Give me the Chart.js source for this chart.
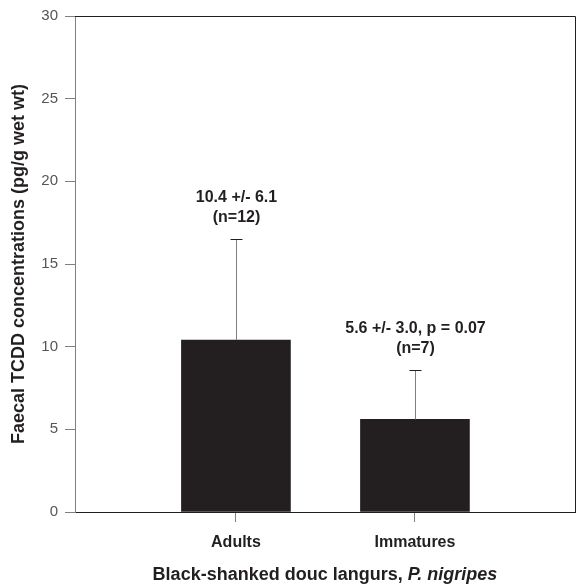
<!DOCTYPE html>
<html>
<head>
<meta charset="utf-8">
<script src="https://cdn.jsdelivr.net/npm/chart.js@4/dist/chart.umd.min.js"></script>
<style>
  html, body { margin: 0; padding: 0; background: #fff; }
  #wrap { width: 577px; height: 585px; }
</style>
</head>
<body>
<div id="wrap"><canvas id="tcddChart" width="577" height="585"></canvas></div>
<script>
// data
const categories = ["Adults", "Immatures"];
const means = [10.4, 5.6];
const sds = [6.1, 3.0];
const labelLines = [["10.4 +/- 6.1", "(n=12)"], ["5.6 +/- 3.0, p = 0.07", "(n=7)"]];
const yTicks = [0, 5, 10, 15, 20, 25, 30];

const FONT = "'Liberation Sans', Arial, Helvetica, sans-serif";
const DARK = "#231f20";
const GREY = "#808080";

// error bars (upward only), labels above them, box lines and axis titles
const extras = {
  id: "extras",
  afterDatasetsDraw(chart) {
    const ctx = chart.ctx;
    const xs = chart.scales.x, ys = chart.scales.y;
    const a = chart.chartArea;
    ctx.save();
    // top + right frame
    ctx.strokeStyle = DARK;
    ctx.lineWidth = 1;
    ctx.beginPath();
    ctx.moveTo(a.left, a.top + 0.5);
    ctx.lineTo(a.right + 0.5, a.top + 0.5);
    ctx.lineTo(a.right + 0.5, a.bottom);
    ctx.stroke();

    means.forEach((m, i) => {
      const x = Math.round(xs.getPixelForValue(i + 1)) + 0.5;
      const yBar = ys.getPixelForValue(m);
      const yTop = Math.round(ys.getPixelForValue(m + sds[i])) + 0.5;
      ctx.strokeStyle = GREY;
      ctx.beginPath();
      ctx.moveTo(x, yBar);
      ctx.lineTo(x, yTop);
      ctx.stroke();
      ctx.strokeStyle = DARK;
      ctx.beginPath();
      ctx.moveTo(x - 6, yTop);
      ctx.lineTo(x + 6, yTop);
      ctx.stroke();

      ctx.fillStyle = DARK;
      ctx.font = "bold 16px " + FONT;
      ctx.textAlign = "center";
      ctx.textBaseline = "middle";
      ctx.fillText(labelLines[i][0], x, yTop - 42);
      ctx.fillText(labelLines[i][1], x, yTop - 22);
    });

    // y title
    ctx.fillStyle = DARK;
    ctx.font = "bold 18px " + FONT;
    ctx.textAlign = "center";
    ctx.textBaseline = "middle";
    ctx.save();
    ctx.translate(19, (a.top + a.bottom) / 2);
    ctx.rotate(-Math.PI / 2);
    ctx.fillText("Faecal TCDD concentrations (pg/g wet wt)", 0, 0);
    ctx.restore();

    // x title with italic species name
    const p1 = "Black-shanked douc langurs, ";
    const p2 = "P. nigripes";
    ctx.font = "bold 18px " + FONT;
    const w1 = ctx.measureText(p1).width;
    ctx.font = "italic bold 18px " + FONT;
    const w2 = ctx.measureText(p2).width;
    const cx = (a.left + a.right) / 2;
    const sx = cx - (w1 + w2) / 2;
    const ty = 575;
    ctx.textAlign = "left";
    ctx.font = "bold 18px " + FONT;
    ctx.fillText(p1, sx, ty);
    ctx.font = "italic bold 18px " + FONT;
    ctx.fillText(p2, sx + w1, ty);
    ctx.restore();
  }
};

const ctx = document.getElementById("tcddChart").getContext("2d");
new Chart(ctx, {
  type: "bar",
  data: {
    datasets: [
      {
        data: means.map((v, i) => ({ x: i + 1, y: v })),
        backgroundColor: DARK,
        borderWidth: 0,
        barThickness: 109,
      },
    ],
  },
  options: {
    responsive: false,
    animation: false,
    layout: { padding: { left: 0, top: 12, right: 2, bottom: 0 } },
    plugins: { legend: { display: false }, tooltip: { enabled: false } },
    scales: {
      x: {
        type: "linear",
        offset: false,
        min: 0.101,
        max: 2.894,
        afterBuildTicks(scale) {
          scale.ticks = categories.map((c, i) => ({ value: i + 1 }));
        },
        afterFit(scale) { scale.height = 73; },
        grid: { display: true, offset: false, drawOnChartArea: false, drawTicks: true, tickLength: 10, color: GREY },
        border: { display: true, color: DARK, width: 1 },
        ticks: {
          callback: (v) => categories[v - 1],
          color: DARK,
          font: { family: FONT, size: 16, weight: "bold" },
          padding: 11,
          maxRotation: 0,
        },
      },
      y: {
        min: 0,
        max: 30,
        afterBuildTicks(scale) {
          scale.ticks = yTicks.map((v) => ({ value: v }));
        },
        afterFit(scale) { scale.width = 75; },
        grid: { display: true, drawOnChartArea: false, drawTicks: true, tickLength: 10, color: GREY },
        border: { display: true, color: GREY, width: 1 },
        ticks: {
          color: "#555",
          font: { family: FONT, size: 15 },
          padding: 7,
        },
      },
    },
  },
  plugins: [extras],
});
</script>
</body>
</html>
